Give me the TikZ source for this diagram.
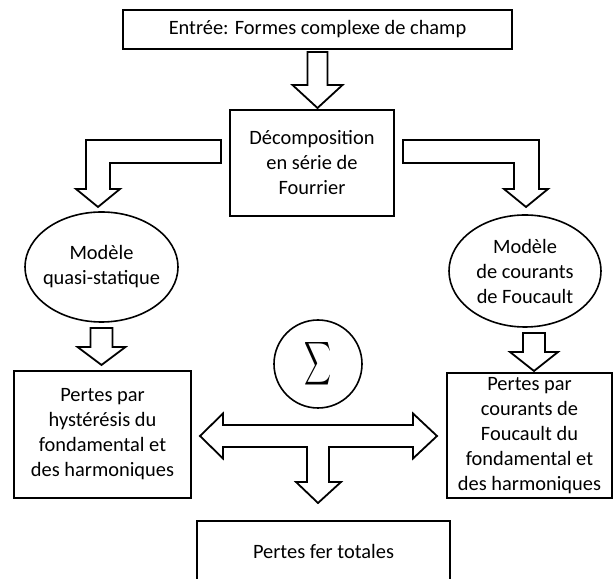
\documentclass[tikz,border=0pt]{standalone}
\usepackage{fontspec}
\setmainfont{Carlito}
\usetikzlibrary{positioning,calc,shapes.geometric}

\begin{document}
\begin{tikzpicture}[
  x=1bp, y=1bp,
  font=\fontsize{20.4bp}{25bp}\selectfont,
  box/.style={draw,line width=2.4bp,align=center,inner sep=2bp,outer sep=0pt},
  model/.style={draw,ellipse,line width=1.6bp,align=center,
                inner xsep=-8bp,inner ysep=0pt,outer sep=0pt},
  sumc/.style={draw,circle,line width=1.6bp,minimum size=88bp,
               inner sep=0pt,outer sep=0pt},
  blk/.style={draw,line width=1.8bp,line join=miter,fill=white}
]
\useasboundingbox (0,0) rectangle (616,579);

% input and Fourier
\node[box,minimum width=389bp,minimum height=39bp] (entree) at (317.5,549.5)
 {Entrée: Formes complexe de champ};
\node[box,below=61bp of entree,xshift=-5.5bp,minimum width=164bp,
 minimum height=106bp] (fourier) {Décomposition\\en série de\\Fourrier};
\draw[blk] ($(entree.south)+(-10,-3)$) -- ++(0,-33) -- ++(-15,0)
 -- ($(entree.south |- fourier.north)+(0,2)$) -- ++(25,23) -- ++(-15,0)
 -- ++(0,33) -- cycle;

% models
\node[model,minimum width=153bp,minimum height=110bp] (quasi) at (101.5,312)
 {Modèle\\quasi-statique};
\node[model,minimum width=152bp,minimum height=112bp] (foucault) at (525,308)
 {Modèle\\de courants\\de Foucault};
\draw[blk] ($(fourier.west)+(-9,0)$) -- ++(0,23)
 -| ($(quasi.north)+(-15.5,23)$) -- ++(-10,0)
 -- ($(quasi.north)+(-3.5,5)$) -- ++(22,18) -- ++(-10,0)
 |- ($(fourier.west)+(-9,0)$) -- cycle;
\draw[blk] ($(fourier.east)+(9,0)$) -- ++(0,23)
 -| ($(foucault.north)+(14,26)$) -- ++(9,0)
 -- ($(foucault.north)+(1,8)$) -- ++(-22,18) -- ++(10,0)
 |- ($(fourier.east)+(9,0)$) -- cycle;

% losses
\node[box,below=49bp of quasi,xshift=1bp,minimum width=177bp,
 minimum height=127bp] (hyst)
 {Pertes par\\hystérésis du\\fondamental et\\des harmoniques};
\node[box,below=46bp of foucault,xshift=4.5bp,minimum width=165bp,
 minimum height=125bp] (eddy)
 {Pertes par\\courants de\\Foucault du\\fondamental et\\des harmoniques};
\draw[blk] ($(quasi.south)+(-11,-6)$) -- ++(0,-19) -- ++(-13,0)
 -- ($(quasi.south |- hyst.north)+(0,6)$) -- ++(24,18) -- ++(-13,0)
 -- ++(0,19) -- cycle;
\draw[blk] ($(foucault.south)+(-2,-6)$) -- ++(0,-19) -- ++(-13,0)
 -- ($(foucault.south |- eddy.north)+(9,2)$) -- ++(24,19) -- ++(-13,0)
 -- ++(0,19) -- cycle;

% sum and total
\node[sumc] (sum) at (318,215) {\resizebox{27bp}{40bp}{$\displaystyle\sum$}};
\node[box,minimum width=253bp,minimum height=60bp] (total) at (323.5,28)
 {Pertes fer totales};
\coordinate (lt) at ($(hyst.east)+(9,-1.5)$);
\coordinate (rt) at ($(eddy.west)+(-10,-0.5)$);
\coordinate (dt) at ($(sum.south |- total.north)+(0,18)$);
\draw[blk] (lt) -- ++(23,22.5) -- ++(0,-11.5) -- ($(rt)+(-24,11)$)
 -- ++(0,11.5) -- (rt) -- ++(-24,-22.5) -- ++(0,11.5)
 -- ($(dt)+(11,56)$) -- ++(0,-35) -- ++(12,0) -- (dt) -- ++(-22,21)
 -- ++(11,0) -- ++(0,35) -- ($(lt)+(23,-11)$) -- ++(0,-11.5) -- cycle;
\end{tikzpicture}
\end{document}
